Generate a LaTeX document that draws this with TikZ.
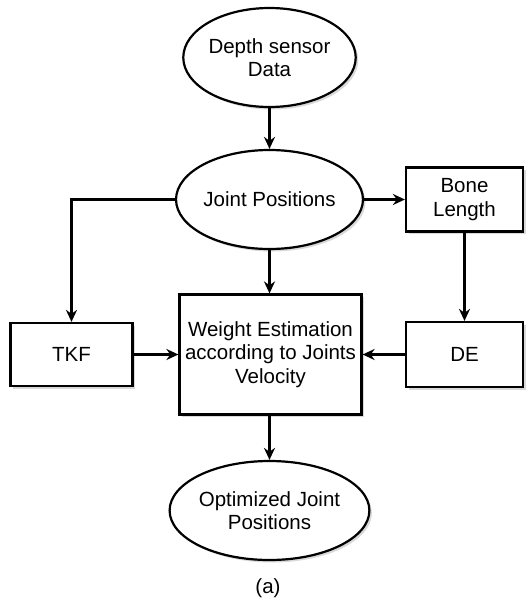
\documentclass[tikz,border=0pt]{standalone}
\usepackage{fontspec}
\setmainfont{Liberation Sans}
\usetikzlibrary{shapes.geometric,arrows.meta,shadows}
\begin{document}
\begin{tikzpicture}[x=1pt,y=-1pt,
  every node/.style={font=\fontsize{20.5}{23.5}\selectfont, align=center, inner sep=0pt},
  shape base/.style={draw, line width=2.2pt, fill=white, drop shadow={shadow xshift=2.5pt, shadow yshift=-2.5pt, opacity=0.3}},
  oval/.style={shape base, ellipse, minimum width=168pt, minimum height=99pt},
  box/.style={shape base, rectangle},
  conn/.style={line width=2.2pt, -{Stealth[length=12pt,width=11pt]}}]
\useasboundingbox (0,0) rectangle (528,606);
\node[oval] (d1) at (269.5,57.5) {Depth sensor\\Data};
\node[oval] (jp) at (269.5,199.5) {Joint Positions};
\node[box, minimum width=117pt, minimum height=64pt] (bl) at (464.5,199.5) {Bone\\Length};
\node[box, minimum width=122pt, minimum height=63pt] (tkf) at (71.5,354.5) {TKF};
\node[box, minimum width=182pt, minimum height=120pt] (w) at (270.5,354.5) {Weight Estimation\\according to Joints\\Velocity};
\node[box, minimum width=117pt, minimum height=65pt] (de) at (464.5,354.5) {DE};
\node[oval] (oj) at (269.5,510.5) {Optimized Joint\\Positions};
\node (cap) at (268,588) {(a)};
\draw[conn] (d1) -- (jp);
\draw[conn] (jp.west) -| (tkf.north);
\draw[conn] (jp.south) -- (jp.south |- w.north);
\draw[conn] (jp.east) -- (bl.west);
\draw[conn] (bl.south) -- (de.north);
\draw[conn] (tkf.east) -- (tkf.east -| w.west);
\draw[conn] (de.west) -- (de.west -| w.east);
\draw[conn] (w.south -| oj.north) -- (oj.north);
\end{tikzpicture}
\end{document}
